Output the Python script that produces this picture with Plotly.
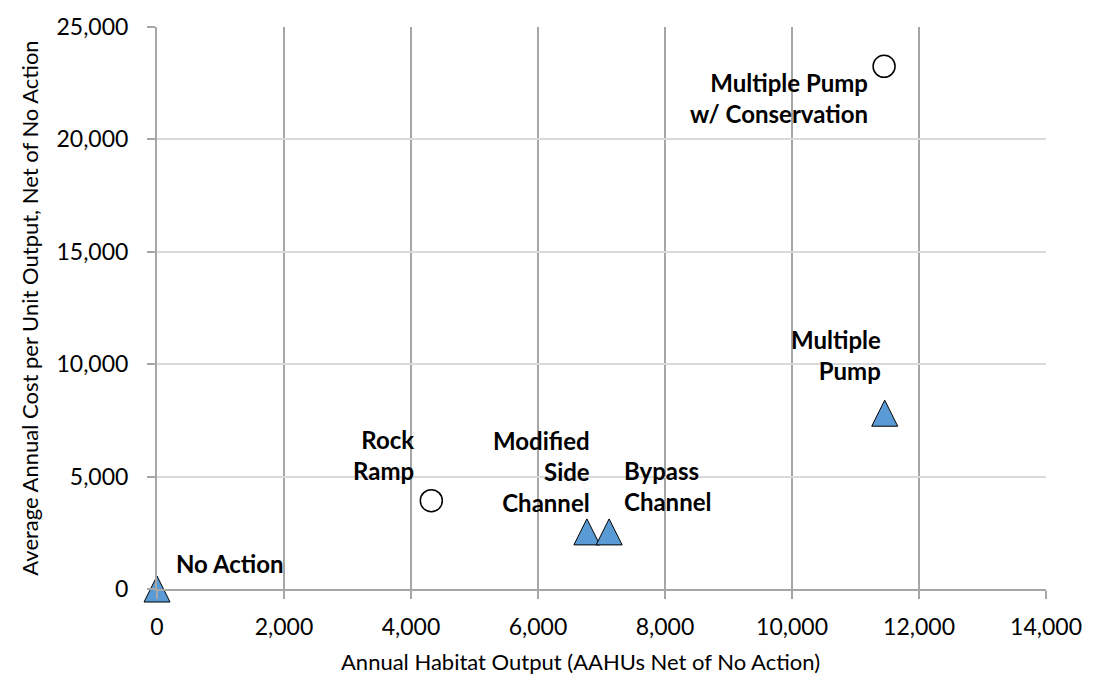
import plotly.graph_objects as go

# Alternatives: annual habitat output vs. average annual cost per unit output
names = ["No Action", "Rock Ramp", "Modified Side Channel", "Bypass Channel",
         "Multiple Pump", "Multiple Pump w/ Conservation"]
labels = ["No Action", "Rock<br>Ramp", "Modified<br>Side<br>Channel", "Bypass<br>Channel",
          "Multiple<br>Pump", "Multiple Pump<br>w/ Conservation"]
habitat_output = [0, 4320, 6770, 7120, 11460, 11450]
unit_cost = [0, 3930, 2540, 2540, 7820, 23250]
best_buy = [True, False, True, True, True, False]

x_ticks = [0, 2000, 4000, 6000, 8000, 10000, 12000, 14000]
y_ticks = [0, 5000, 10000, 15000, 20000, 25000]

x_title = "Annual Habitat Output (AAHUs Net of No Action)"
y_title = "Average Annual Cost per Unit Output, Net of No Action"

# label placement (pixel offsets from each point, anchors)
label_style = {
    "No Action": dict(xshift=17, yshift=26, xanchor="left", align="left"),
    "Rock Ramp": dict(xshift=-15, yshift=46, xanchor="right", align="right"),
    "Modified Side Channel": dict(xshift=5, yshift=60, xanchor="right", align="right"),
    "Bypass Channel": dict(xshift=13, yshift=46, xanchor="left", align="left"),
    "Multiple Pump": dict(xshift=-2, yshift=58, xanchor="right", align="right"),
    "Multiple Pump w/ Conservation": dict(xshift=-14, yshift=-32, xanchor="right", align="right"),
}

FONT = "Lato, 'Open Sans', sans-serif"
TRI = 26  # triangle marker size (px)

fig = go.Figure()

bx = [x for x, b in zip(habitat_output, best_buy) if b]
by = [y for y, b in zip(unit_cost, best_buy) if b]
ox = [x for x, b in zip(habitat_output, best_buy) if not b]
oy = [y for y, b in zip(unit_cost, best_buy) if not b]

# upright isosceles triangle centred on the point (flipped arrow with standoff)
fig.add_trace(go.Scatter(
    x=bx, y=by, mode="markers",
    marker=dict(symbol="arrow-down", angle=180, standoff=TRI / 2, size=TRI,
                color="#5B9BD5", line=dict(color="#000000", width=1)),
    showlegend=False, cliponaxis=False,
))
fig.add_trace(go.Scatter(
    x=ox, y=oy, mode="markers",
    marker=dict(symbol="circle", size=22, color="#FFFFFF",
                line=dict(color="#000000", width=1.5)),
    showlegend=False, cliponaxis=False,
))

for name, lab, x, y in zip(names, labels, habitat_output, unit_cost):
    st = label_style[name]
    fig.add_annotation(
        x=x, y=y, xref="x", yref="y", text=f"<b>{lab}</b>", showarrow=False,
        xanchor=st["xanchor"], yanchor="middle", align=st["align"],
        xshift=st["xshift"], yshift=st["yshift"],
        font=dict(family=FONT, size=24, color="#000000"),
    )

# x-axis title, centred under the whole chart rather than the plot area
fig.add_annotation(
    x=0.476, y=-0.129, xref="paper", yref="paper", text=x_title,
    showarrow=False, xanchor="center", yanchor="middle",
    font=dict(family=FONT, size=22, color="#000000"),
)

fig.update_layout(
    width=1094, height=682,
    margin=dict(l=157, r=46, t=17, b=93),
    paper_bgcolor="#FFFFFF", plot_bgcolor="#FFFFFF",
    font=dict(family=FONT, size=22, color="#000000"),
)

fig.update_xaxes(
    range=[0, 14000], tickvals=x_ticks,
    ticktext=[f"{v:,}" for v in x_ticks],
    showgrid=True, gridcolor="#A6A6A6", gridwidth=2,
    showline=True, linecolor="#A6A6A6", linewidth=2,
    ticks="outside", ticklen=8, tickcolor="#A6A6A6", tickwidth=2,
    zeroline=False, ticklabelstandoff=8,
    tickfont=dict(family=FONT, size=23, color="#000000"),
)
fig.update_yaxes(
    range=[0, 25000], tickvals=y_ticks,
    ticktext=[f"{v:,}" for v in y_ticks],
    showgrid=True, gridcolor="#D9D9D9", gridwidth=2,
    showline=True, linecolor="#A6A6A6", linewidth=2,
    ticks="outside", ticklen=8, tickcolor="#A6A6A6", tickwidth=2,
    zeroline=False, ticklabelstandoff=14,
    tickfont=dict(family=FONT, size=23, color="#000000"),
    title=dict(text=y_title,
               font=dict(family=FONT, size=22, color="#000000"), standoff=12),
)

fig.write_html("out.html")
